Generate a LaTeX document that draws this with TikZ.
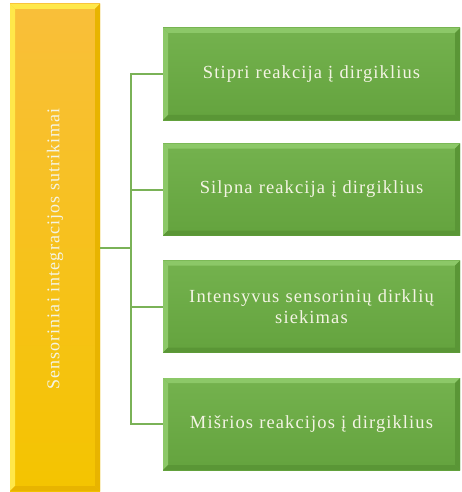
\documentclass[tikz,border=0pt]{standalone}
\usepackage{fontspec}
\setmainfont{Liberation Serif}[LetterSpace=6]
\definecolor{grn}{HTML}{64A33E}
\definecolor{grnlt}{HTML}{8CC868}
\definecolor{grnmid}{HTML}{74B24E}
\definecolor{grndk}{HTML}{5A9636}
\definecolor{yeltop}{HTML}{F9BF3A}
\definecolor{yelbot}{HTML}{F4C400}
\definecolor{yellt}{HTML}{FFE84A}
\definecolor{yeldk}{HTML}{E8B400}
\definecolor{linegrn}{HTML}{7AB257}
\definecolor{txt}{HTML}{F4F4E4}
\tikzset{
  bevel/.style n args={2}{path picture={
    \path (path picture bounding box.north west) coordinate (nw)
          (path picture bounding box.south east) coordinate (se);
    \fill[#1] (nw) -- (nw -| se) -- ([shift={(-5,5)}]nw -| se) -- ([shift={(5,5)}]nw) -- cycle;
    \fill[#1] (nw) -- ([shift={(5,5)}]nw) -- ([shift={(5,-5)}]nw |- se) -- (nw |- se) -- cycle;
    \fill[#2] (se) -- (se |- nw) -- ([shift={(-5,5)}]se |- nw) -- ([shift={(-5,-5)}]se) -- cycle;
    \fill[#2] (se) -- (nw |- se) -- ([shift={(5,-5)}]nw |- se) -- ([shift={(-5,-5)}]se) -- cycle;
  }},
  greenbox/.style={top color=grnmid, bottom color=grn, bevel={grnlt}{grndk}, minimum width=297pt, minimum height=92pt, inner sep=0pt, text=txt, font=\fontsize{18.5}{21}\selectfont, align=center, text width=290pt},
  yellowbox/.style={top color=yeltop, bottom color=yelbot, bevel={yellt}{yeldk}, minimum width=90pt, minimum height=487pt, inner sep=0pt},
  conn/.style={draw=linegrn, line width=2pt}
}
\begin{document}
\begin{tikzpicture}[x=1pt,y=-1pt]
\useasboundingbox (0,0) rectangle (461,492);
\node[yellowbox] (y) at (55,247.5) {};
\node[rotate=90, text=txt, font=\fontsize{18}{21}\selectfont] (yt) at (55,249) {Sensoriniai integracijos sutrikimai};
\node[greenbox] (g1) at (311.5,74) {Stipri reakcija į dirgiklius};
\node[greenbox] (g2) at (311.5,189.5) {Silpna reakcija į dirgiklius};
\node[greenbox] (g3) at (311.5,306.5) {Intensyvus sensorinių dirklių\\ siekimas};
\node[greenbox] (g4) at (311.5,424) {Mišrios reakcijos į dirgiklius};
\coordinate (bus) at (130.5,247.5);
\draw[conn] (y.east |- bus) -- (bus);
\draw[conn] (g1.west) -| (bus);
\draw[conn] (g2.west) -| (bus);
\draw[conn] (g3.west) -| (bus);
\draw[conn] (g4.west) -| (bus);
\end{tikzpicture}
\end{document}
